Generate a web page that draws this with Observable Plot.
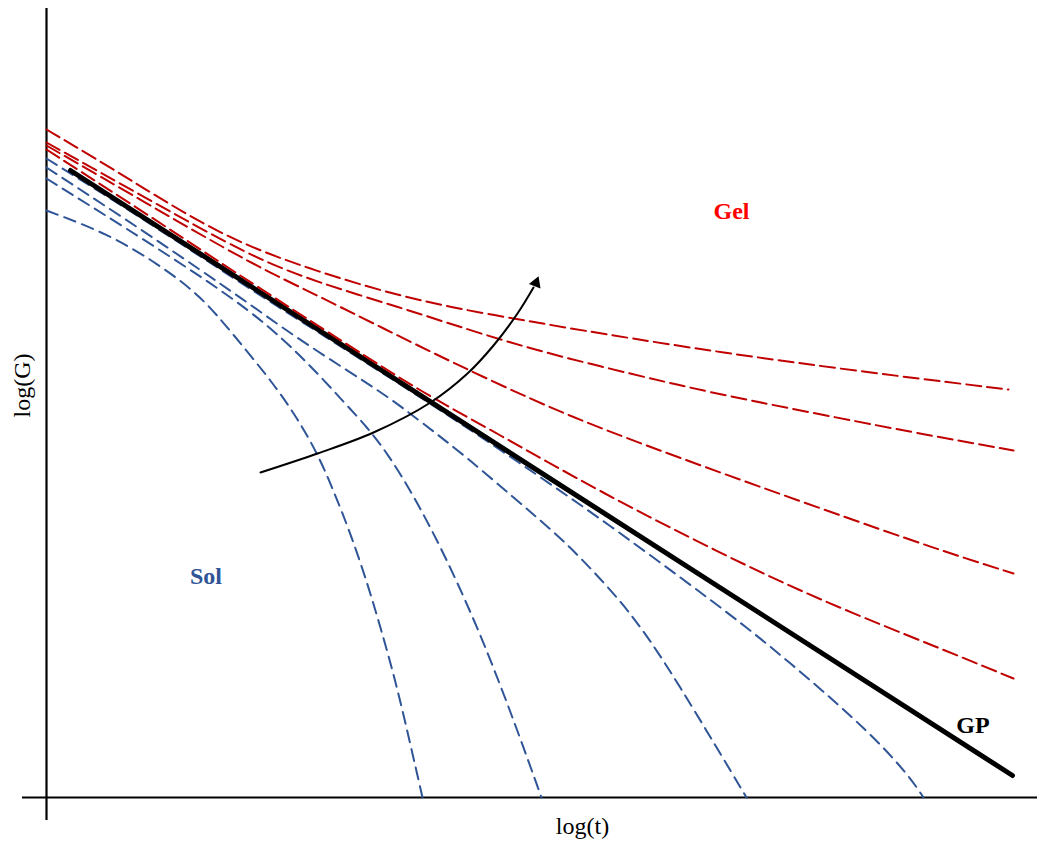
<!DOCTYPE html>
<html>
<head>
<meta charset="utf-8">
<script src="https://cdn.jsdelivr.net/npm/d3@7"></script>
<script src="https://cdn.jsdelivr.net/npm/@observablehq/plot@0.6"></script>
<style>
html, body { margin: 0; padding: 0; background: #fff; overflow: hidden; }
#chart svg { display: block; }
</style>
</head>
<body>
<div id="chart"></div>
<script>
// ---- data (log t on x, log G on y, arbitrary units) ----
const gpX = [2.4, 96.6];
const gpY = [62.7, 2.2];

const gel1X = [0, 5.4, 10.4, 15.4, 20.4, 27.1, 33.7, 40.4, 48.4, 55.4, 67.4, 81.4, 96.2];
const gel1Y = [66.8, 63.6, 60.5, 57.5, 55.0, 52.6, 50.6, 49.0, 47.6, 46.4, 44.5, 42.6, 40.8];
const gel2X = [0, 10.4, 20.4, 27.1, 35.4, 42.1, 48.7, 55.4, 62.1, 67.4, 78.4, 89.4, 96.7];
const gel2Y = [65.5, 59.7, 54.1, 51.5, 49.0, 46.8, 44.8, 43.1, 41.5, 40.3, 38.1, 36.0, 34.7];
const gel3X = [0, 10.4, 20.4, 27.1, 33.7, 40.4, 48.7, 55.4, 65.4, 77.4, 89.4, 96.7];
const gel3Y = [65.2, 59.2, 53.4, 50.2, 46.9, 43.6, 39.7, 36.9, 33.2, 28.9, 24.7, 22.4];
const gel4X = [0, 10.4, 20.4, 30.4, 37.4, 45.1, 55.1, 67.4, 77.4, 89.4, 96.7];
const gel4Y = [64.8, 58.1, 51.5, 45.1, 40.6, 36.4, 30.7, 24.4, 19.7, 14.9, 11.9];

const sol1X = [0, 6.1, 11.1, 15.4, 18.6, 22.7, 25.1, 27.1, 28.7, 30.4, 32.1, 33.4, 34.9, 36.3, 37.6];
const sol1Y = [58.7, 56.4, 53.4, 50.2, 46.4, 41.4, 37.9, 34.4, 30.7, 26.4, 21.4, 17.0, 11.7, 5.7, 0];
const sol2X = [0, 10.4, 20.9, 26.4, 29.4, 32.1, 34.1, 36.4, 38.4, 40.4, 43.1, 45.4, 47.2, 49.5];
const sol2Y = [61.9, 55.4, 48.5, 43.2, 39.9, 37.0, 34.4, 30.7, 27.0, 23.0, 17.0, 11.2, 6.4, 0];
const sol3X = [0, 10.4, 20.4, 25.1, 30.1, 34.4, 37.4, 41.7, 46.7, 50.7, 53.4, 57.4, 60.4, 63.4, 66.9, 70.0];
const sol3Y = [63.0, 56.2, 49.3, 45.9, 42.7, 39.9, 37.6, 34.3, 30.0, 26.6, 24.0, 19.7, 15.7, 11.0, 5.2, 0];
const sol4X = [0, 10.4, 20.4, 30.4, 40.4, 47.4, 55.4, 63.4, 70.1, 76.1, 82.1, 86.1, 87.7];
const sol4Y = [63.9, 57.4, 50.8, 44.5, 38.1, 33.4, 27.9, 22.0, 17.0, 12.0, 6.7, 2.4, 0];

const arrowX = [21.4, 27.1, 32.7, 38.4, 42.1, 44.7, 47.1, 48.7];
const arrowY = [32.5, 34.4, 36.5, 39.5, 42.4, 45.2, 48.4, 51.0];
const arrowHeadX = [48.95];
const arrowHeadY = [51.45];

const xAxisSpan = [-2.4, 99.1];
const yAxisSpan = [-2.3, 78.9];

const labelText = ["Gel", "Sol", "GP"];
const labelX = [68.5, 15.95, 92.65];
const labelY = [58.6, 22.1, 7.25];
const labelColor = ["#FF0000", "#2F5597", "#000000"];

const xTitle = "log(t)";
const yTitle = "log(G)";
const xTitlePos = [53.6, -2.9];
const yTitlePos = [-2.45, 41.2];

// ---- build rows ----
const rows = (name, xs, ys) => xs.map((x, i) => ({series: name, x, y: ys[i]}));
const gelRows = [
  ...rows("g1", gel1X, gel1Y), ...rows("g2", gel2X, gel2Y),
  ...rows("g3", gel3X, gel3Y), ...rows("g4", gel4X, gel4Y)
];
const solRows = [
  ...rows("s1", sol1X, sol1Y), ...rows("s2", sol2X, sol2Y),
  ...rows("s3", sol3X, sol3Y), ...rows("s4", sol4X, sol4Y)
];
const gpRows = rows("gp", gpX, gpY);
const arrowRows = rows("arrow", arrowX, arrowY);
const headRows = rows("head", arrowHeadX, arrowHeadY);
const labels = labelText.map((t, i) => ({t, x: labelX[i], y: labelY[i], c: labelColor[i]}));

const serif = "'Liberation Serif', 'Times New Roman', serif";

const chart = Plot.plot({
  width: 1037,
  height: 843,
  x: {domain: [0, 100], range: [46, 1046], axis: null},
  y: {domain: [0, 80], range: [797, -3], axis: null},
  style: {background: "#fff", fontFamily: serif},
  marks: [
    Plot.ruleY([0], {x1: xAxisSpan[0], x2: xAxisSpan[1], stroke: "#000", strokeWidth: 2}),
    Plot.ruleX([0], {y1: yAxisSpan[0], y2: yAxisSpan[1], stroke: "#000", strokeWidth: 2.2}),
    Plot.line(solRows, {x: "x", y: "y", z: "series", stroke: "#2F5597", strokeWidth: 2,
      strokeDasharray: "12,7", curve: "basis"}),
    Plot.line(gpRows, {x: "x", y: "y", stroke: "#000", strokeWidth: 5}),
    Plot.line(gelRows, {x: "x", y: "y", z: "series", stroke: "#C00000", strokeWidth: 2,
      strokeDasharray: "15,6", curve: "basis"}),
    Plot.line(arrowRows, {x: "x", y: "y", stroke: "#000", strokeWidth: 2, curve: "catmull-rom"}),
    Plot.dot(headRows, {x: "x", y: "y", symbol: "triangle", r: 4.6, fill: "#000", stroke: "none", rotate: 21}),
    Plot.text(labels, {x: "x", y: "y", text: "t", fill: "c", fontSize: 24, fontWeight: "bold",
      fontFamily: serif, textAnchor: "middle"}),
    Plot.text([xTitle], {x: xTitlePos[0], y: xTitlePos[1], text: d => d, fontSize: 24,
      fontFamily: serif, fill: "#000", textAnchor: "middle"}),
    Plot.text([yTitle], {x: yTitlePos[0], y: yTitlePos[1], text: d => d, fontSize: 24,
      fontFamily: serif, fill: "#000", rotate: -90, textAnchor: "middle"})
  ]
});
document.getElementById("chart").appendChild(chart);
</script>
</body>
</html>
